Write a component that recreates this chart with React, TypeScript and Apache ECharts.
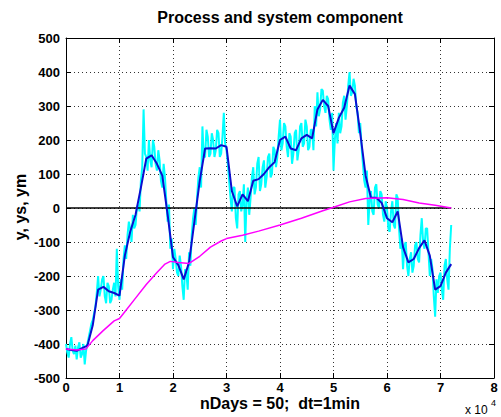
import React, { useEffect, useRef } from "react";
import * as echarts from "echarts";

// x in units of 1e4 minutes
const cyanStep = 0.025;
const yProcess = [
  -400, -425, -440, -400, -380, -420, -430, -405, -445, -410,
  -395, -440, -430, -400, -460, -420, -400, -380, -360, -340,
  -330, -310, -290, -250, -200, -260, -240, -210, -200, -260,
  -280, -220, -230, -280, -270, -240, -220, -260, -120, -230,
  -270, -210, -240, -150, -110, -150, -80, -40, -60, -100,
  -20, -60, -50, 0, 10, -10, 80, 120, 290, 160,
  150, 110, 200, 140, 120, 200, 180, 130, 110, 170,
  140, 80, 60, 130, 90, 20, -40, 10, -120, -90,
  -180, -120, -150, -190, -200, -140, -170, -230, -270, -180,
  -190, -240, -130, -170, -80, -30, 0, -50, 30, 90,
  120, 60, 240, 150, 150, 230, 210, 150, 160, 220,
  200, 150, 170, 230, 220, 150, 160, 210, 280, 190,
  170, 130, 80, 30, -10, 60, 60, -30, -60, 40,
  50, -10, 10, 70, -100, 20, 60, -20, 30, 90,
  120, 40, 60, 130, 150, 50, 70, 120, 140, 60,
  90, 150, 160, 90, 100, 180, 170, 120, 150, 210,
  260, 170, 190, 250, 240, 180, 150, 220, 210, 130,
  160, 220, 230, 140, 170, 240, 250, 180, 190, 260,
  240, 170, 180, 230, 230, 170, 300, 240, 340, 270,
  290, 350, 345, 300, 280, 330, 320, 260, 230, 280,
  110, 200, 250, 190, 280, 220, 240, 310, 330, 260,
  300, 360, 400, 330, 340, 380, 360, 300, 280, 220,
  250, 180, 130, 80, 60, 110, -50, 20, 50, -10,
  -20, 60, 70, 10, 0, 50, 40, -20, -40, 20,
  0, -60, -70, -10, 20, -50, -60, 40, 30, -60,
  -120, -90, -180, -110, -100, -170, -200, -150, -130, -190,
  -170, -110, -100, -150, -160, -80, -30, -100, -120, -60,
  -60, -130, -200, -150, -180, -260, -320, -210, -250, -200,
  -190, -240, -270, -170, -150, -210, -240, -120, -50,
];

const blueStep = 0.1;
const ySystem = [
  -415, -418, -420, -412, -405, -345, -240, -232, -245, -250,
  -258, -140, -70, -20, 60, 145, 155, 130, 95, -20,
  -145, -168, -210, -160, -40, 80, 175, 176, 175, 185,
  180, 50, 5, 40, 20, 80, 85, 100, 120, 135,
  200, 210, 175, 170, 205, 215, 205, 290, 318, 300,
  220, 265, 295, 360, 335, 220, 95, 30, 30, 15,
  -30, -42, -10, -115, -160, -150, -118, -95, -140, -240,
  -230, -190, -165,
];

const ymX = [0, 0.2, 0.37, 0.5, 0.7, 0.9, 1.0, 1.1, 1.3, 1.5, 1.7, 1.85, 1.95, 2.1, 2.3, 2.5, 2.7, 2.9, 3.0, 3.3, 3.6, 4.0, 4.4, 4.8, 5.0, 5.3, 5.6, 6.0, 6.3, 6.6, 6.9, 7.2];
const ymVal = [-415, -418, -415, -390, -360, -332, -325, -305, -265, -225, -190, -165, -157, -160, -163, -142, -115, -97, -90, -80, -68, -50, -30, -8, 2, 18, 28, 30, 25, 15, 8, 0];

const xTicks = [0, 1, 2, 3, 4, 5, 6, 7, 8];
const yTicks = [-500, -400, -300, -200, -100, 0, 100, 200, 300, 400, 500];
const zeroLine = [[0, 0], [7.2, 0]];

export default function App() {
  const ref = useRef<HTMLDivElement>(null);
  useEffect(() => {
    const chart = echarts.init(ref.current!, null, { renderer: "svg" });
    const font = "Liberation Sans, Arial, sans-serif";
    const gridLine = { show: true, lineStyle: { type: [1, 3], color: "#333", width: 1 } };
    const axLine = { show: true, onZero: false, lineStyle: { color: "#000", width: 1 } };
    const tick = { show: true, inside: true, length: 5, lineStyle: { color: "#000" } };
    chart.setOption({
      animation: false,
      backgroundColor: "#fff",
      grid: { left: 66, top: 38, width: 428, height: 340, containLabel: false },
      xAxis: [
        {
          type: "value", min: 0, max: 8, interval: 1, position: "bottom",
          axisLine: axLine, axisTick: tick, splitLine: gridLine,
          axisLabel: { color: "#000", fontFamily: font, fontWeight: "bold", fontSize: 13, margin: 3,
            formatter: (v: number) => (xTicks.includes(v) ? String(v) : "") },
        },
        {
          type: "value", min: 0, max: 8, interval: 1, position: "top",
          axisLine: axLine, axisTick: tick, splitLine: { show: false }, axisLabel: { show: false },
        },
      ],
      yAxis: [
        {
          type: "value", min: -500, max: 500, interval: 100, position: "left",
          axisLine: axLine, axisTick: tick, splitLine: gridLine,
          axisLabel: { color: "#000", fontFamily: font, fontWeight: "bold", fontSize: 13, margin: 6,
            formatter: (v: number) => (yTicks.includes(v) ? String(v) : "") },
        },
        {
          type: "value", min: -500, max: 500, interval: 100, position: "right",
          axisLine: axLine, axisTick: tick, splitLine: { show: false }, axisLabel: { show: false },
        },
      ],
      series: [
        {
          name: "y", type: "line", showSymbol: false, symbol: "none",
          data: yProcess.map((v, i) => [i * cyanStep, v]),
          lineStyle: { color: "#00ffff", width: 2 }, z: 2,
        },
        {
          name: "zero", type: "line", showSymbol: false, symbol: "none",
          data: zeroLine, lineStyle: { color: "#000", width: 1.5 }, z: 3,
        },
        {
          name: "ys", type: "line", showSymbol: false, symbol: "none",
          data: ySystem.map((v, i) => [i * blueStep, v]),
          lineStyle: { color: "#0c0cd0", width: 2 }, z: 4,
        },
        {
          name: "ym", type: "line", showSymbol: false, symbol: "none",
          data: ymX.map((x, i) => [x, ymVal[i]]),
          lineStyle: { color: "#ff00ff", width: 1.5 }, z: 5,
        },
      ],
      graphic: [
        {
          type: "text", x: 280, y: 17,
          style: { text: "Process and system component", fontFamily: font, fontWeight: "bold", fontSize: 16,
            fill: "#000", textAlign: "center", textVerticalAlign: "middle" },
        },
        {
          type: "text", x: 280, y: 403,
          style: { text: "nDays = 50;  dt=1min", fontFamily: font, fontWeight: "bold", fontSize: 16,
            fill: "#000", textAlign: "center", textVerticalAlign: "middle" },
        },
        {
          type: "text", x: 20, y: 207, rotation: Math.PI / 2,
          style: { text: "y, ys, ym", fontFamily: font, fontWeight: "bold", fontSize: 16,
            fill: "#000", textAlign: "center", textVerticalAlign: "middle" },
        },
        {
          type: "text", x: 465, y: 410,
          style: { text: "x 10", fontFamily: font, fontSize: 12, fill: "#000",
            textAlign: "left", textVerticalAlign: "middle" },
        },
        {
          type: "text", x: 491, y: 403,
          style: { text: "4", fontFamily: font, fontSize: 9, fill: "#000",
            textAlign: "left", textVerticalAlign: "middle" },
        },
      ],
    });
    return () => chart.dispose();
  }, []);
  return <div ref={ref} style={{ position: "fixed", left: 0, top: 0, width: 501, height: 417 }} />;
}
